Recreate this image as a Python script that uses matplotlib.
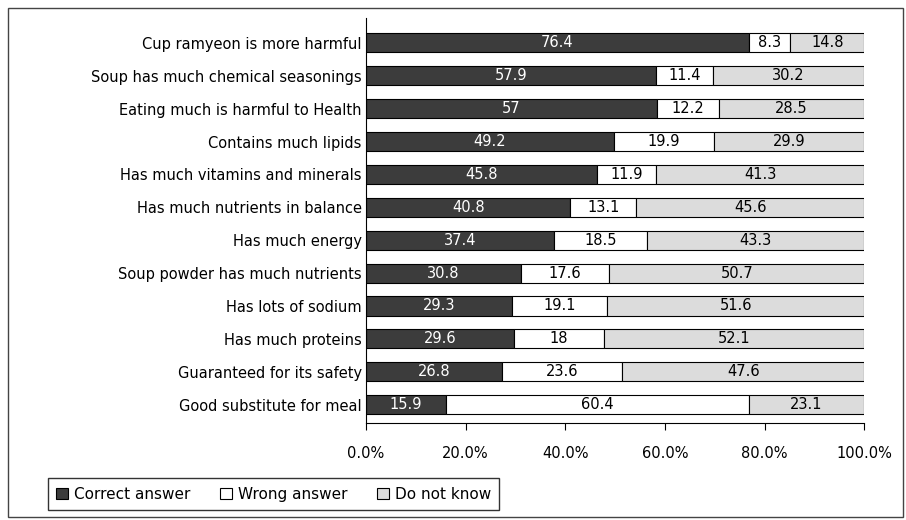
import numpy as np
import matplotlib.pyplot as plt
from matplotlib.patches import Rectangle

items = ['Cup ramyeon is more harmful',
         'Soup has much chemical seasonings',
         'Eating much is harmful to Health',
         'Contains much lipids',
         'Has much vitamins and minerals',
         'Has much nutrients in balance',
         'Has much energy',
         'Soup powder has much nutrients',
         'Has lots of sodium',
         'Has much proteins',
         'Guaranteed for its safety',
         'Good substitute for meal']
correct = np.array([76.4, 57.9, 57, 49.2, 45.8, 40.8, 37.4, 30.8, 29.3, 29.6, 26.8, 15.9])
wrong = np.array([8.3, 11.4, 12.2, 19.9, 11.9, 13.1, 18.5, 17.6, 19.1, 18, 23.6, 60.4])
dont_know = np.array([14.8, 30.2, 28.5, 29.9, 41.3, 45.6, 43.3, 50.7, 51.6, 52.1, 47.6, 23.1])
series_names = ['Correct answer', 'Wrong answer', 'Do not know']
xtick_vals = [0, 20, 40, 60, 80, 100]

plt.rcParams['font.family'] = 'DejaVu Sans'

fig = plt.figure(figsize=(9.06, 5.2), dpi=100)
ax = fig.add_axes([0.404, 0.187, 0.550, 0.778])

# outer frame of the scanned chart
fig.patches.append(Rectangle((0.009, 0.006), 0.988, 0.978, transform=fig.transFigure,
                             fill=False, edgecolor='#444444', linewidth=1.0))

y = np.arange(len(items))
total = correct + wrong + dont_know
series = [correct, wrong, dont_know]
faces = ['#3c3c3c', 'white', '#dcdcdc']
text_cols = ['white', 'black', 'black']

left = np.zeros(len(items))
for vals, name, fc, tc in zip(series, series_names, faces, text_cols):
    share = vals / total * 100
    ax.barh(y, share, left=left, height=0.58, color=fc, edgecolor='black',
            linewidth=0.8, label=name)
    for yi, l, s, v in zip(y, left, share, vals):
        ax.text(l + s / 2, yi, '%g' % v, ha='center', va='center',
                color=tc, fontsize=10.5)
    left += share

ax.set_xlim(0, 100)
ax.set_ylim(len(items) - 0.45, -0.75)
ax.set_yticks(y)
ax.set_yticklabels(items, fontsize=10.5)
ax.tick_params(axis='y', length=0, pad=3)
ax.set_xticks(xtick_vals)
ax.set_xticklabels(['%.1f%%' % v for v in xtick_vals], fontsize=10.5)
ax.tick_params(axis='x', length=5, pad=12)
for side in ['top', 'right']:
    ax.spines[side].set_visible(False)

fig.legend(loc='lower left', bbox_to_anchor=(0.044, 0.004), ncol=3,
           fontsize=11, frameon=True, fancybox=False, edgecolor='black',
           handlelength=0.8, handleheight=0.8, handletextpad=0.4,
           columnspacing=1.9, borderpad=0.55)

plt.savefig('out.png', dpi=100)
